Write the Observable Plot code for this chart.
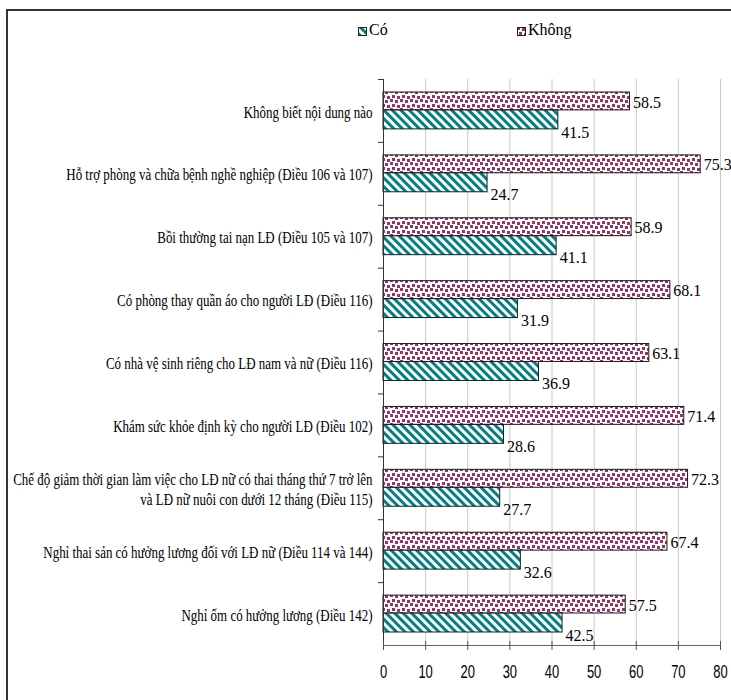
<!DOCTYPE html>
<html><head><meta charset="utf-8">
<script src="https://cdn.jsdelivr.net/npm/d3@7"></script>
<script src="https://cdn.jsdelivr.net/npm/@observablehq/plot@0.6"></script>
<style>
body{margin:0;background:#fff;}
#wrap{position:relative;width:731px;height:700px;overflow:hidden;background:#fff;}
#border{position:absolute;left:6px;top:9px;width:800px;height:800px;border-left:2px solid #333;border-top:2px solid #333;box-sizing:border-box;}
#chart{position:absolute;left:0;top:0;}
.sw{position:absolute;top:27px;width:9px;height:9px;}
.lt{position:absolute;top:21px;font-size:16px;font-family:"Liberation Serif","Times New Roman",serif;line-height:18px;color:#000;}
</style></head><body>
<svg width="0" height="0" style="position:absolute">
<defs>
<pattern id="patCo" width="6" height="6" patternUnits="userSpaceOnUse" patternTransform="rotate(-45)">
<rect width="6" height="6" fill="#fff"/><rect width="3" height="6" fill="#008080"/>
</pattern>
<pattern id="patKhong" width="10" height="9" patternUnits="userSpaceOnUse">
<rect width="10" height="9" fill="#fff"/>
<g fill="#993366" shape-rendering="crispEdges">
<rect x="0" y="0" width="3" height="3"/>
<rect x="5" y="1" width="3" height="3"/>
<rect x="2" y="5" width="3" height="3"/>
<rect x="7" y="6" width="3" height="3"/>
</g>
</pattern>
</defs></svg>
<div id="wrap">
<div id="border"></div>
<div id="chart"></div>
<svg class="sw" style="left:358px"><rect x="0.5" y="0.5" width="8" height="8" fill="url(#patCo)" stroke="#222"/></svg>
<span class="lt" style="left:369px">Có</span>
<svg class="sw" style="left:517px"><rect x="0.5" y="0.5" width="8" height="8" fill="url(#patKhong)" stroke="#222"/></svg>
<span class="lt" style="left:528px">Không</span>
</div>
<script>
const categories = [
  "Không biết nội dung nào",
  "Hỗ trợ phòng và chữa bệnh nghề nghiệp (Điều 106 và 107)",
  "Bồi thường tai nạn LĐ (Điều 105 và 107)",
  "Có phòng thay quần áo cho người LĐ (Điều 116)",
  "Có nhà vệ sinh riêng cho LĐ nam và nữ (Điều 116)",
  "Khám sức khỏe định kỳ cho người LĐ (Điều 102)",
  "Chế độ giảm thời gian làm việc cho LĐ nữ có thai tháng thứ 7 trở lên\nvà LĐ nữ nuôi con dưới 12 tháng (Điều 115)",
  "Nghỉ thai sản có hưởng lương đối với LĐ nữ (Điều 114 và 144)",
  "Nghỉ ốm có hưởng lương (Điều 142)"
];
const khongValues = [58.5, 75.3, 58.9, 68.1, 63.1, 71.4, 72.3, 67.4, 57.5];
const coValues = [41.5, 24.7, 41.1, 31.9, 36.9, 28.6, 27.7, 32.6, 42.5];
const xTicks = [0, 10, 20, 30, 40, 50, 60, 70, 80];

const rows = categories.map((c, i) => ({category: c, khong: khongValues[i], co: coValues[i]}));

// layout / style constants
const W = 731, H = 700, mT = 79, mB = 55, mL = 383, mR = 11;
const bw = (H - mT - mB) / categories.length;
const serif = "'Liberation Serif', 'Times New Roman', serif";

const plot = Plot.plot({
  width: W, height: H,
  marginLeft: mL, marginRight: mR, marginTop: mT, marginBottom: mB,
  style: {fontFamily: serif, background: "transparent", color: "#000"},
  x: {domain: [0, 80], label: null},
  y: {domain: categories, padding: 0, round: false, label: null},
  marks: [
    Plot.gridX(xTicks, {stroke: "#c8c8c8", strokeOpacity: 1}),
    Plot.barX(rows, {y: "category", x: "khong", fill: "url(#patKhong)", stroke: "#1a1a1a", strokeWidth: 1, insetTop: 13, insetBottom: 32}),
    Plot.barX(rows, {y: "category", x: "co", fill: "url(#patCo)", stroke: "#1a1a1a", strokeWidth: 1, insetTop: 31, insetBottom: 13}),
    Plot.ruleX([0], {stroke: "#333"}),
    Plot.ruleY([categories[categories.length - 1]], {dy: bw / 2, stroke: "#666"}),
    Plot.axisY({tickSize: 5, tickFormat: () => "", dy: -bw / 2, stroke: "#333", label: null}),
    Plot.axisY({tickSize: 0, tickPadding: 11, fontSize: 16, lineHeight: 1.3, label: null, fontFamily: serif}),
    Plot.axisX(xTicks, {tickSize: 9, dy: -4, tickFormat: () => "", stroke: "#555", label: null}),
    Plot.axisX(xTicks, {tickSize: 0, tickPadding: 20, fontSize: 18, fontFamily: "'Liberation Sans', Arial, sans-serif", label: null}),
    Plot.text(rows, {y: "category", x: "khong", text: d => d.khong.toFixed(1), dx: 3, dy: -8.5, textAnchor: "start", fontSize: 16, fontFamily: serif, ariaLabel: "vlabel"}),
    Plot.text(rows, {y: "category", x: "co", text: d => d.co.toFixed(1), dx: 3, dy: 21.5, textAnchor: "start", fontSize: 16, fontFamily: serif, ariaLabel: "vlabel"})
  ]
});
document.getElementById("chart").appendChild(plot);

function squeeze(t, k) {
  const tr = t.getAttribute("transform") || "";
  const x = +(t.getAttribute("x") || 0);
  t.setAttribute("transform", `${tr} translate(${x},0) scale(${k},1) translate(${-x},0)`);
}
plot.querySelectorAll('g[aria-label="y-axis tick label"] text').forEach(t => squeeze(t, 0.81));
plot.querySelectorAll('g[aria-label="vlabel"] text').forEach(t => squeeze(t, 0.8));
plot.querySelectorAll('g[aria-label="x-axis tick label"] text').forEach(t => squeeze(t, 0.72));
</script>
</body></html>
